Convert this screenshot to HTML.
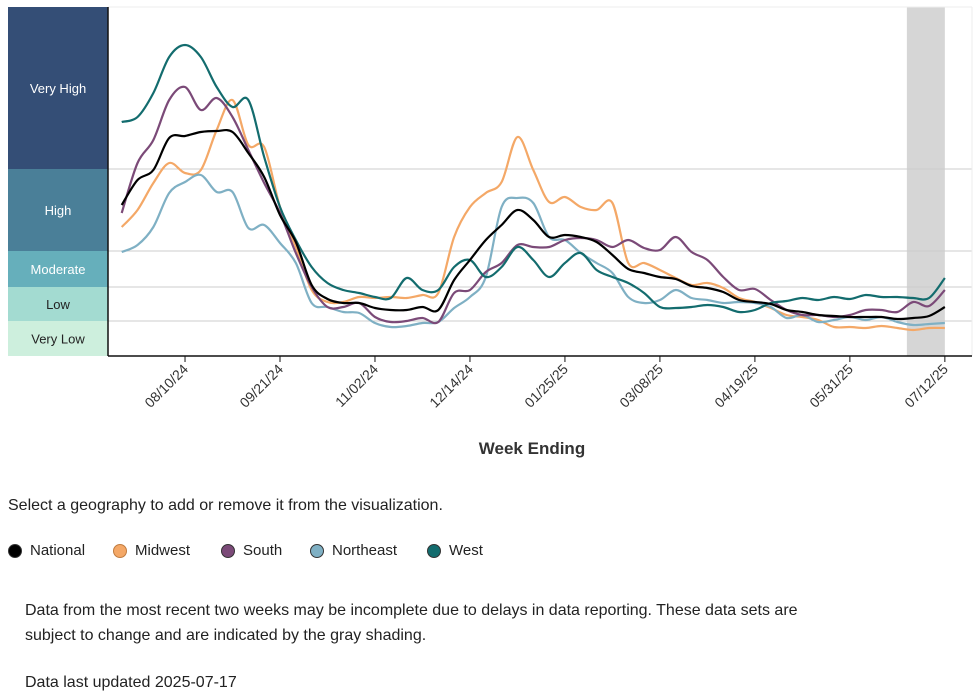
<!DOCTYPE html>
<html><head><meta charset="utf-8"><style>
body{margin:0;width:980px;height:692px;background:#fff;font-family:"Liberation Sans",sans-serif;color:#222;overflow:hidden;position:relative}
.t{position:absolute;font-size:16px;white-space:nowrap}
.leg{position:absolute;top:542px;font-size:15px;display:flex;align-items:center}
.leg span.c{display:inline-block;width:14px;height:14px;border-radius:50%;margin-right:8px;border:1px solid #333;box-sizing:border-box}
</style></head><body>
<svg id="chart" width="980" height="470" style="position:absolute;left:0;top:0"></svg>
<div class="t" style="left:8px;top:497px">Select a geography to add or remove it from the visualization.</div>
<div class="leg" style="left:8px"><span class="c" style="background:#000"></span>National</div>
<div class="leg" style="left:113px"><span class="c" style="background:#f4a867;border-color:#c07c40"></span>Midwest</div>
<div class="leg" style="left:221px"><span class="c" style="background:#7b4a78"></span>South</div>
<div class="leg" style="left:310px"><span class="c" style="background:#7fb0c4"></span>Northeast</div>
<div class="leg" style="left:427px"><span class="c" style="background:#136c6e"></span>West</div>
<div class="t" style="left:25px;top:598px;line-height:25px">Data from the most recent two weeks may be incomplete due to delays in data reporting. These data sets are<br>subject to change and are indicated by the gray shading.</div>
<div class="t" style="left:25px;top:674px">Data last updated 2025-07-17</div>
<script>
const tickLabels=["08/10/24","09/21/24","11/02/24","12/14/24","01/25/25","03/08/25","04/19/25","05/31/25","07/12/25"];
const tickWeeks=[4,10,16,22,28,34,40,46,52];
const bands=[["Very High",349,187,"#344e76"],["High",187,105,"#4a7f98"],["Moderate",105,69,"#66afbb"],["Low",69,35,"#a3dbd1"],["Very Low",35,0,"#cdefdd"]];
const national=[205,180,170,138,136,132,131,132,153,177,215,242,285,299,303,303,308,310,310,307,310,280,260,240,225,210,220,237,235,237,242,255,269,273,277,279,286,288,292,300,302,304,310,312,315,316,317,317,317,319,318,316,307].map(y=>356-y);
const midwest=[227,210,183,163,173,170,130,100,145,147,207,247,290,302,302,297,298,297,298,295,293,237,207,193,182,137,170,202,197,207,210,203,263,263,270,278,285,283,288,298,302,308,315,317,320,327,327,328,326,328,330,328,328].map(y=>356-y);
const south=[213,163,140,100,87,110,98,117,150,183,213,253,287,307,307,303,317,322,321,318,322,293,290,272,263,245,247,247,240,238,240,247,240,248,250,237,252,260,277,290,289,300,310,315,315,317,315,310,310,312,302,306,290].map(y=>356-y);
const northeast=[252,245,227,193,182,175,192,192,228,225,243,263,303,307,312,313,323,327,326,323,322,308,297,277,207,198,203,237,240,253,263,273,297,303,300,290,298,300,303,302,303,307,318,315,322,320,317,320,317,322,325,324,323].map(y=>356-y);
const west=[122,117,93,57,45,57,87,107,100,157,207,240,267,283,290,293,297,298,278,290,290,267,260,277,267,247,260,277,263,253,270,277,283,293,307,308,307,305,307,312,310,303,301,298,300,297,299,295,297,297,298,298,278].map(y=>356-y);
const series=[["midwest",midwest,"#f4a867"],["northeast",northeast,"#7fb0c4"],["south",south,"#7b4a78"],["west",west,"#136c6e"],["national",national,"#000"]];
const svg=document.getElementById('chart'),NS="http://www.w3.org/2000/svg";
const X0=108,X1=972,Y0=356,Y1=7;
const xS=i=>121.7+i*15.83;
const yS=v=>Y0-v*(Y0-Y1)/349;
function mk(t,a,p){const e=document.createElementNS(NS,t);for(const k in a)e.setAttribute(k,a[k]);(p||svg).appendChild(e);return e}
const shade=mk('rect',{x:xS(49.6),y:Y1,width:xS(52)-xS(49.6),height:Y0-Y1,fill:'#d6d6d6'});


bands.forEach(b=>{
 const r=mk('rect',{x:8,y:yS(b[1]),width:X0-8,height:yS(b[2])-yS(b[1]),fill:b[3]});
 
 
 const t=mk('text',{x:58,y:(yS(b[1])+yS(b[2]))/2+5,'text-anchor':'middle','font-size':13,fill:b[0].includes('Low')?'#222':'#fff','font-family':'Liberation Sans'});
 t.textContent=b[0];
 
 
 if(b[2]>0){const g=mk('line',{x1:X0,x2:X1,y1:yS(b[2]),y2:yS(b[2]),stroke:'#ccc','stroke-width':1});
 
 }
});
mk('line',{x1:X0,x2:X1,y1:Y1,y2:Y1,stroke:'#eee'});
mk('line',{x1:X1,x2:X1,y1:Y1,y2:Y0,stroke:'#eee'});
const ax=mk('line',{x1:X0,x2:X0,y1:Y1,y2:Y0,stroke:'#111','stroke-width':1.5});


const bx=mk('line',{x1:X0,x2:X1,y1:Y0,y2:Y0,stroke:'#111','stroke-width':1.5});


tickWeeks.forEach((w,k)=>{
 const x=xS(w);
 mk('line',{x1:x,x2:x,y1:Y0,y2:Y0+6,stroke:'#111'});
 const t=mk('text',{x:x+4,y:Y0+14,'text-anchor':'end','font-size':14,fill:'#333',transform:`rotate(-45 ${x+4} ${Y0+14})`,'font-family':'Liberation Sans'});
 t.textContent=tickLabels[k];
 
 
});
const xt=mk('text',{x:532,y:454,'text-anchor':'middle','font-size':17,'font-weight':'bold',fill:'#333','font-family':'Liberation Sans'});
xt.textContent='Week Ending';


function path(v){const p=v.map((d,i)=>[xS(i),yS(d)]);let s=`M${p[0][0]},${p[0][1]}`;
 for(let i=0;i<p.length-1;i++){const a=p[Math.max(i-1,0)],b=p[i],c=p[i+1],d=p[Math.min(i+2,p.length-1)];
 s+=`C${b[0]+(c[0]-a[0])/6},${b[1]+(c[1]-a[1])/6} ${c[0]-(d[0]-b[0])/6},${c[1]-(d[1]-b[1])/6} ${c[0]},${c[1]}`;}return s}
series.forEach(s=>{
 const l=mk('path',{d:path(s[1]),fill:'none',stroke:s[2],'stroke-width':2.2});
 
 
});
</script>
</body></html>
